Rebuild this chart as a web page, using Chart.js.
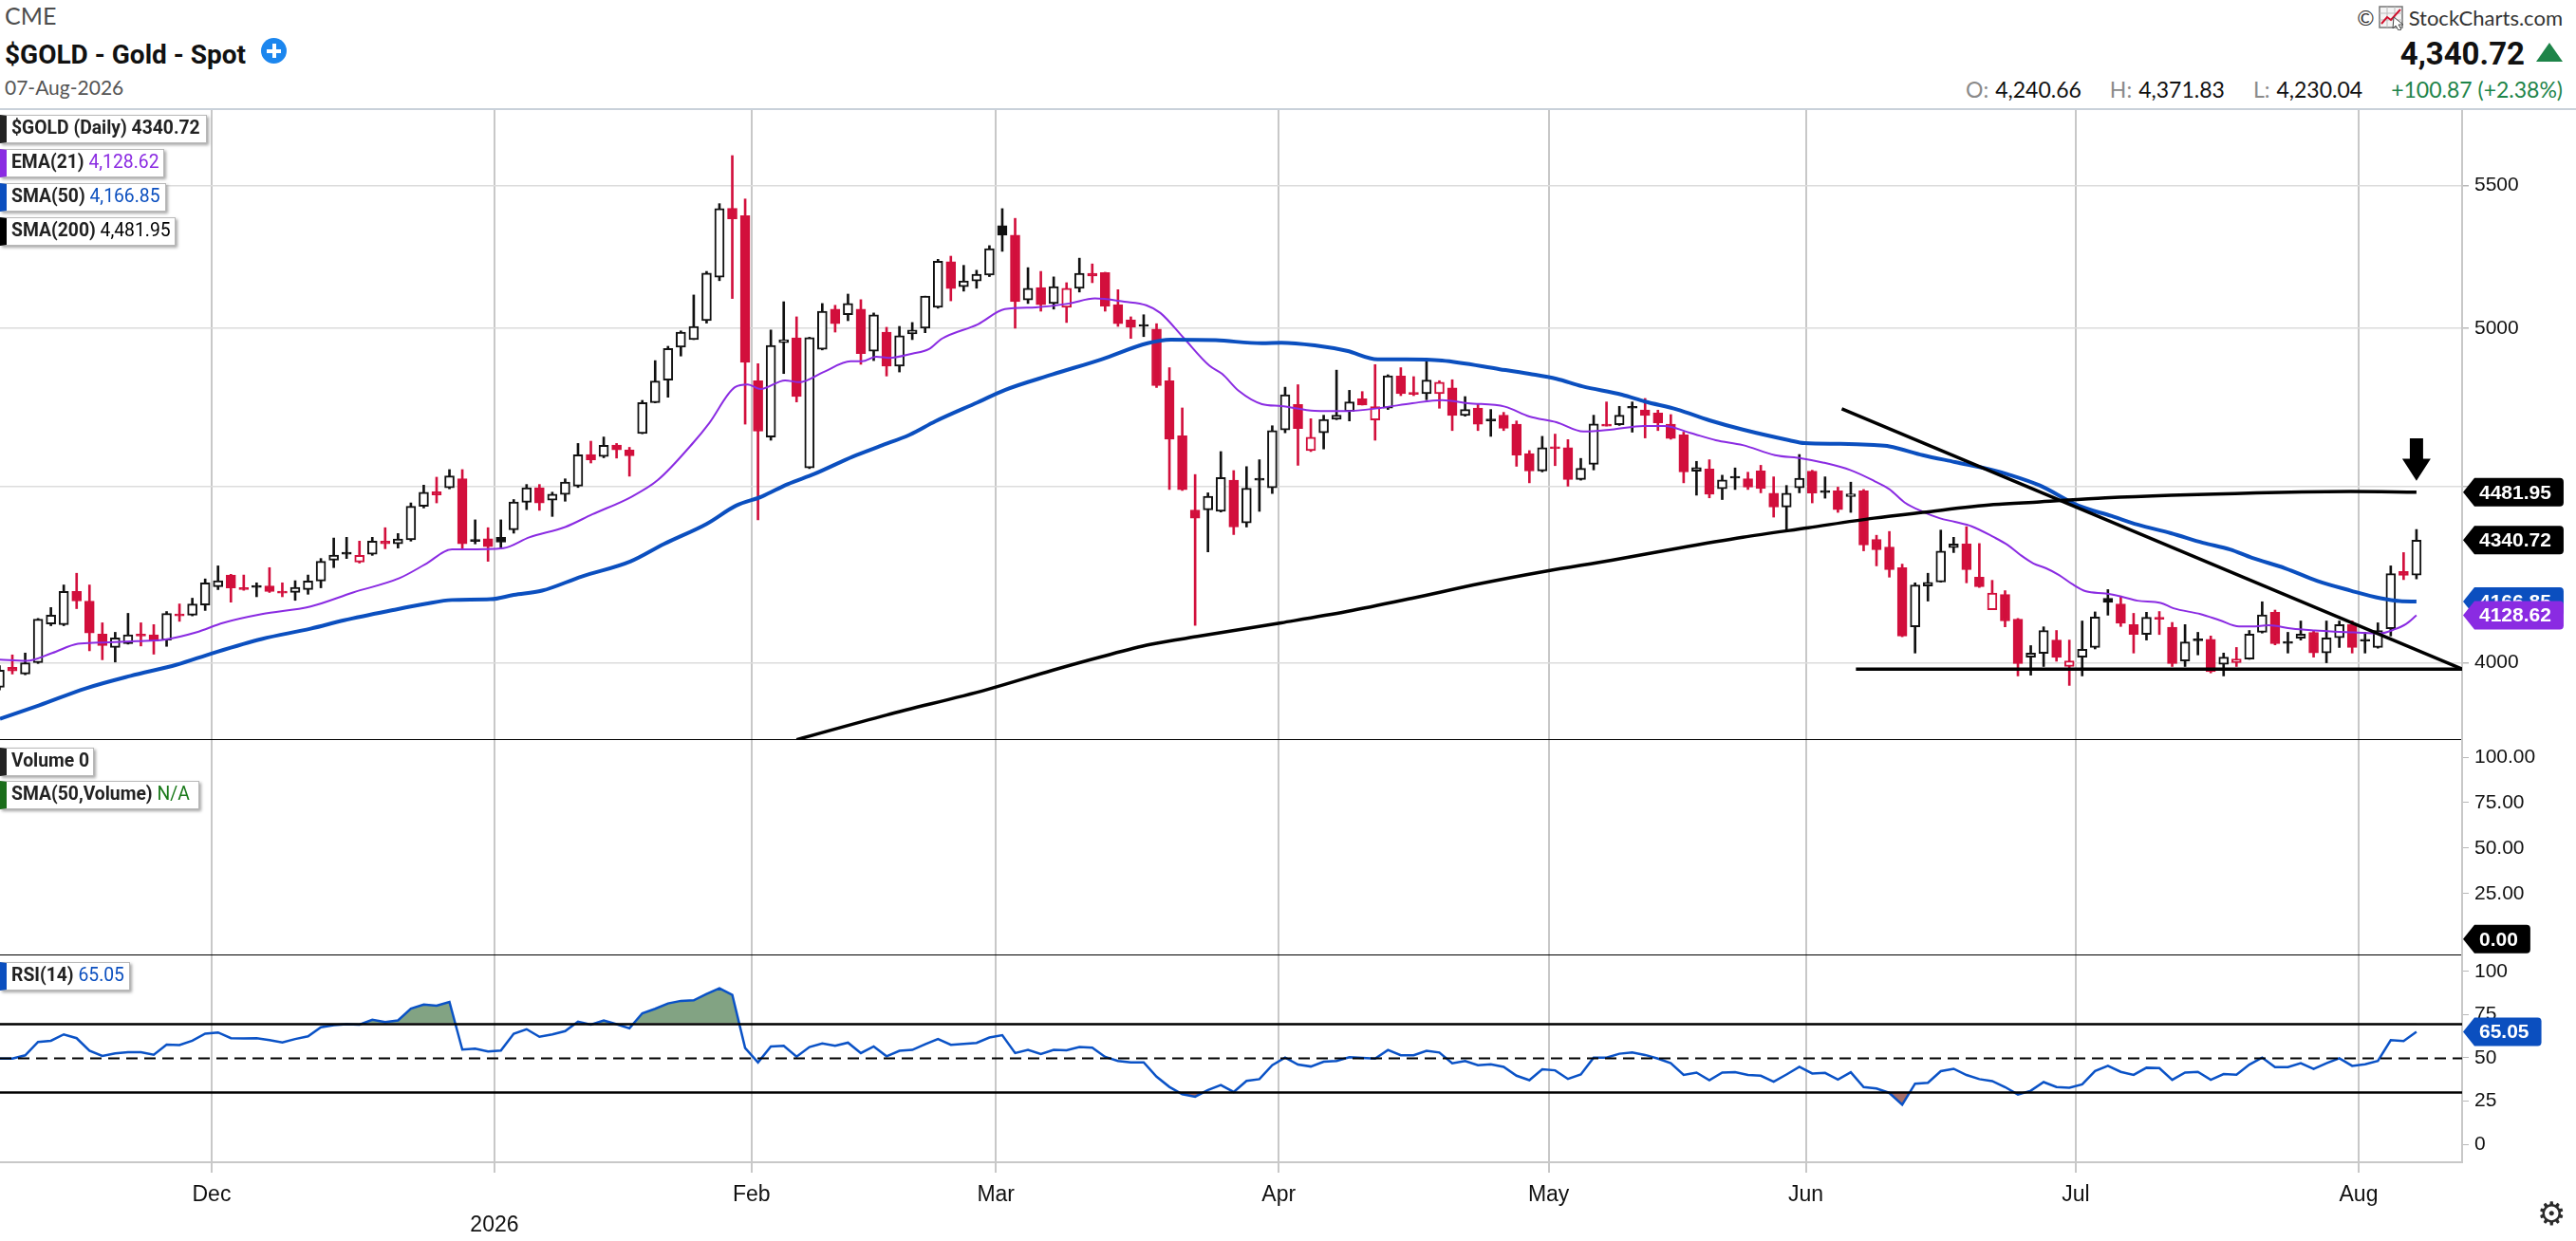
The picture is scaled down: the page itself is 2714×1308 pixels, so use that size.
<!DOCTYPE html>
<html>
<head>
<meta charset="utf-8">
<title>$GOLD - Gold - Spot</title>
<script src="https://cdn.jsdelivr.net/npm/chart.js@4.4.1/dist/chart.umd.min.js"></script>
<style>
html, body { margin: 0; padding: 0; background: #fff; }
body { position: relative; width: 2714px; height: 1308px; overflow: hidden; font-family: Lato, "Open Sans", sans-serif; color: #111; }
.a { position: absolute; white-space: nowrap; line-height: 1; }
#cme { left: 5px; top: 4px; font-size: 25px; color: #4d4d4d; }
#title { left: 5px; top: 41px; font: bold 28px Roboto, sans-serif; }
#plus { left: 275px; top: 40px; width: 27px; height: 27px; border-radius: 50%; background: #1c86ee; }
#plus:before, #plus:after { content: ''; position: absolute; background: #fff; }
#plus:before { left: 6px; top: 11.5px; width: 15px; height: 4px; }
#plus:after { left: 11.5px; top: 6px; width: 4px; height: 15px; }
#date { left: 5px; top: 81px; font-size: 21px; color: #555; }
#brand { right: 14px; top: 6px; font-size: 22px; color: #333; display: flex; align-items: center; gap: 4px; }
#last { right: 54px; top: 37px; font: bold 33px Roboto, sans-serif; }
#tri { right: 14px; top: 45px; width: 0; height: 0; border-left: 14px solid transparent; border-right: 14px solid transparent; border-bottom: 20px solid #1e8449; }
#ohlc { right: 14px; top: 83px; font-size: 23px; display: flex; gap: 30px; }
#ohlc .k { color: #8a8a8a; margin-right: 7px; }
#ohlc .chg { color: #1e8449; }
#topline { left: 0; top: 114px; width: 2714px; height: 2px; background: #c9d1da; }
canvas { position: absolute; left: 0; }
.leg { position: absolute; left: 0; z-index: 2; height: 30px; line-height: 28px; white-space: nowrap; background: #fff; border: 1px solid #b8b8b8; border-left: 7px solid #222; box-shadow: 2px 2px 3px rgba(0,0,0,.35); box-sizing: border-box; overflow: hidden; font: bold 21px Roboto, sans-serif; color: #222; padding-left: 5px; }
.leg .t { display: inline-block; white-space: nowrap; transform: scaleX(0.92); transform-origin: 0 50%; }
.leg .v { font-weight: normal; }
#gear { left: 2673px; top: 1259px; font: 34px "DejaVu Sans", sans-serif; color: #2b2b2b; }
</style>
</head>
<body>
<div class="a" id="cme">CME</div>
<div class="a" id="title">$GOLD - Gold - Spot</div>
<div class="a" id="plus"></div>
<div class="a" id="date">07-Aug-2026</div>
<div class="a" id="brand"><span>&copy;</span>
  <svg width="28" height="26" viewBox="0 0 28 26"><rect x="1" y="1" width="24" height="22" fill="#f4f4f4" stroke="#777" stroke-width="1.5"/>
  <path d="M1 8H25M1 15H25M9 1V23M17 1V23" stroke="#bbb" stroke-width="1"/>
  <path d="M3 19L9 12L13 15L23 4" stroke="#d0102c" stroke-width="2" fill="none"/>
  <path d="M16 12L26 20L21 20L24 25L21 26L18 21L15 24Z" fill="#fff" stroke="#444" stroke-width="1"/></svg>
  <span>StockCharts.com</span></div>
<div class="a" id="last"></div>
<div class="a" id="tri"></div>
<div class="a" id="ohlc"></div>
<div class="a" id="topline"></div>

<div class="leg" id="legPrice" style="top:121px;width:218px;border-left-color:#222"></div>
<div class="leg" id="legEma" style="top:157px;width:173px;border-left-color:#8a2be2"></div>
<div class="leg" id="legSma50" style="top:193px;width:175px;border-left-color:#0b4fbf"></div>
<div class="leg" id="legSma200" style="top:229px;width:185px;border-left-color:#000"></div>
<div class="leg" id="legVol" style="top:788px;width:99px;border-left-color:#222"><span class="t">Volume 0</span></div>
<div class="leg" id="legVolSma" style="top:823px;width:210px;border-left-color:#1b6e1b"><span class="t">SMA(50,Volume) <span class="v" style="color:#1b7a1b">N/A</span></span></div>
<div class="leg" id="legRsi" style="top:1014px;width:137px;border-left-color:#0b4fbf"></div>

<canvas id="cPrice" width="2714" height="664" style="top:116px"></canvas>
<canvas id="cVol" width="2714" height="227" style="top:780px"></canvas>
<canvas id="cRsi" width="2714" height="301" style="top:1007px"></canvas>
<div class="a" id="gear">&#9881;</div>

<script>
// daily candles, 189 sessions (early Nov 2025 .. 07 Aug 2026), index = session number
var opens = [3935,3988,3970,4000,4105,4103,4195,4168,4077,4041,
  4051,4076,4075,4061,4131,4129,4157,4208,4241,4205,
  4210,4210,4195,4192,4200,4224,4283,4306,4278,4300,
  4338,4330,4342,4440,4483,4495,4522,4342,4345,4349,
  4371,4452,4495,4458,4475,4500,4596,4590,4625,4610,
  4661,4758,4830,4937,4962,5025,5173,5416,5390,4828,
  4650,4952,4968,4555,4930,5064,5045,5064,4924,4987,
  4875,4981,5000,5070,5227,5140,5160,5180,5354,5320,
  5095,5137,5083,5070,5135,5186,5189,5079,5028,5008,
  4997,4828,4654,4429,4429,4425,4518,4391,4522,4495,
  4672,4752,4608,4663,4705,4730,4770,4703,4740,4843,
  4789,4786,4786,4805,4717,4741,4705,4718,4690,4599,
  4546,4617,4617,4520,4566,4690,4688,4745,4735,4725,
  4690,4657,4545,4552,4492,4528,4522,4546,4479,4438,
  4495,4545,4484,4486,4469,4486,4343,4321,4262,4097,
  4210,4221,4319,4330,4235,4144,4186,4118,4015,4025,
  4061,3990,4015,4041,4176,4160,4103,4076,4123,4096,
  4005,4063,4063,3996,4000,4010,4082,4137,4053,4066,
  4082,4026,4067,4103,4063,4041,4092,4251,4240.66];
var highs = [3992,4021,4026,4120,4150,4213,4246,4213,4108,4082,
  4134,4108,4103,4139,4160,4176,4230,4267,4243,4241,
  4219,4262,4219,4225,4241,4288,4347,4349,4338,4349,
  4377,4360,4450,4503,4527,4550,4550,4400,4377,4400,
  4460,4505,4505,4482,4522,4630,4637,4650,4630,4618,
  4765,4893,4940,4991,5112,5193,5433,5610,5450,4883,
  4994,5089,5038,4970,5083,5077,5115,5096,5051,5003,
  5006,5019,5108,5235,5246,5214,5197,5283,5415,5380,
  5206,5193,5174,5154,5239,5219,5190,5130,5038,5045,
  5015,4870,4741,4535,4480,4605,4547,4559,4580,4685,
  4807,4815,4707,4718,4862,4797,4793,4880,4847,4870,
  4841,4891,4828,4831,4777,4754,4736,4727,4700,4608,
  4652,4659,4642,4584,4718,4760,4746,4760,4771,4734,
  4720,4665,4575,4580,4533,4555,4542,4563,4528,4502,
  4596,4548,4528,4497,4512,4490,4355,4366,4272,4219,
  4246,4370,4349,4380,4331,4226,4197,4120,4046,4097,
  4087,4061,4113,4138,4200,4182,4134,4137,4139,4109,
  4103,4082,4072,4026,4041,4087,4166,4143,4082,4113,
  4087,4113,4113,4113,4082,4108,4267,4305,4371.83];
var lows = [3928,3970,3968,3998,4100,4100,4147,4032,4008,4002,
  4050,4045,4023,4044,4112,4127,4142,4200,4165,4198,
  4180,4192,4180,4170,4187,4205,4262,4288,4275,4297,
  4316,4318,4338,4435,4450,4492,4317,4330,4280,4316,
  4361,4430,4428,4410,4455,4496,4570,4586,4585,4530,
  4660,4757,4775,4908,4962,5017,5161,5100,4690,4400,
  4640,4851,4760,4553,4928,4987,5025,4881,4893,4843,
  4856,4962,4985,5067,5092,5125,5135,5175,5263,5000,
  5083,5057,5064,5019,5122,5154,5057,5006,4966,4972,
  4806,4490,4487,4101,4307,4423,4357,4379,4425,4478,
  4663,4563,4605,4613,4704,4700,4750,4640,4736,4780,
  4780,4767,4740,4670,4715,4670,4652,4670,4560,4510,
  4543,4562,4500,4518,4549,4684,4686,4665,4647,4670,
  4643,4510,4473,4465,4460,4490,4490,4480,4408,4370,
  4480,4450,4464,4422,4422,4310,4267,4235,4070,4026,
  4168,4221,4305,4219,4206,4144,4097,3965,3967,3990,
  4004,3940,3965,4037,4129,4098,4026,4061,4076,3990,
  3990,4021,3973,3965,3990,4009,4080,4048,4026,4061,
  4015,4000,4041,4026,4026,4039,4072,4228,4230.04];
var closes = [3980,3978,4000,4118,4129,4195,4168,4080,4046,4067,
  4075,4072,4058,4134,4127,4160,4219,4225,4205,4200,
  4206,4195,4190,4206,4224,4280,4298,4300,4297,4338,
  4330,4344,4440,4482,4474,4531,4330,4337,4322,4335,
  4453,4495,4450,4476,4512,4595,4580,4624,4610,4592,
  4758,4827,4933,4987,5006,5187,5415,5378,4887,4668,
  4943,4962,4777,4969,5057,5015,5083,4916,5045,4875,
  4975,4994,5108,5228,5134,5160,5183,5272,5320,5089,
  5135,5079,5141,5135,5186,5177,5074,5015,5003,5006,
  4812,4643,4489,4405,4470,4526,4379,4494,4518,4670,
  4783,4676,4649,4705,4718,4760,4750,4745,4844,4786,
  4784,4830,4823,4717,4736,4690,4700,4677,4594,4546,
  4617,4614,4520,4554,4691,4684,4718,4740,4717,4694,
  4645,4543,4556,4476,4519,4524,4497,4493,4438,4479,
  4524,4479,4481,4430,4477,4327,4313,4256,4072,4213,
  4220,4309,4330,4256,4208,4190,4113,3998,4026,4087,
  4014,4005,4036,4124,4164,4107,4076,4123,4118,3998,
  4056,4059,3976,4015,4010,4077,4130,4051,4052,4077,
  4026,4067,4103,4041,4058,4087,4245,4239.85,4340.72];

// overlays as [session, value]
var ema21 = [[0.04,4008],[2.1,4005],[4.1,4026],[6.1,4051],[7.7,4054],[10.7,4058],[12.8,4062],[15.3,4082],
  [17.4,4108],[20.4,4132],[24.2,4153],[27.5,4192],[31.1,4232],[33.1,4271],[35.2,4314],[36.2,4314],
  [39.2,4318],[41.2,4349],[44.0,4379],[46.1,4416],[49.1,4467],[51.2,4518],[54.0,4634],[55.2,4693],
  [57.2,4807],[58.2,4816],[59.2,4801],[61.1,4829],[62.2,4823],[64.1,4856],[66.2,4891],[67.1,4891],
  [68.2,4906],[69.2,4902],[71.0,4916],[72.3,4931],[73.3,4965],[76.1,5013],[78.2,5064],[80.6,5070],
  [83.2,5083],[85.2,5100],[87.5,5089],[89.2,5077],[90.3,5051],[92.1,4968],[94.1,4877],[95.1,4850],
  [96.4,4795],[98.2,4753],[99.7,4747],[102.3,4732],[104.8,4731],[107.4,4741],[109.9,4756],[112.2,4766],
  [114.2,4756],[117.1,4745],[119.0,4714],[121.1,4696],[123.2,4667],[125.4,4673],[127.9,4684],[129.5,4684],
  [131.5,4663],[133.5,4640],[135.6,4625],[138.1,4594],[140.2,4584],[141.9,4571],[144.0,4548],[145.8,4516],
  [147.0,4491],[148.2,4451],[149.6,4424],[150.9,4405],[152.1,4394],[153.4,4381],[155.1,4350],[156.2,4327],
  [157.2,4298],[158.2,4274],[159.2,4260],[160.2,4241],[161.2,4216],[162.3,4195],[163.8,4189],[165.1,4180],
  [166.3,4169],[168.1,4163],[169.1,4148],[171.2,4132],[172.7,4115],[174.2,4098],[175.2,4098],[176.5,4101],
  [178.3,4092],[180.1,4087],[181.6,4084],[183.1,4082],[185.2,4079],[186.2,4089],[187.2,4105],[188,4128.62]];
var sma50 = [[0.04,3853],[3.1,3888],[6.7,3932],[10.2,3965],[13.8,3995],[16.6,4026],[20.4,4064],[24.2,4092],
  [26.8,4115],[30.6,4143],[33.1,4160],[35.2,4171],[38.2,4173],[40.0,4185],[42.2,4197],[45.3,4237],
  [49.1,4280],[51.7,4330],[55.0,4388],[57.3,4442],[59.3,4469],[61.3,4506],[63.4,4537],[66.4,4590],
  [68.5,4622],[70.8,4657],[72.8,4699],[76.1,4759],[78.2,4798],[81.9,4848],[85.7,4897],[89.3,4950],
  [91.1,4962],[94.6,4960],[98.2,4950],[99.7,4952],[102.3,4943],[104.8,4925],[107.2,4897],[109.4,4897],
  [112.2,4893],[116.7,4865],[119.0,4850],[121.1,4834],[123.1,4810],[126.2,4783],[128.0,4761],[130.5,4736],
  [133.0,4702],[135.6,4673],[139.2,4640],[140.4,4631],[143.2,4629],[145.8,4625],[147.0,4621],[149.6,4594],
  [152.1,4573],[155.1,4548],[156.2,4536],[158.7,4502],[161.7,4442],[164.3,4411],[166.3,4386],[168.9,4361],
  [171.4,4333],[173.5,4314],[175.2,4290],[177.8,4260],[180.3,4224],[182.9,4197],[185.2,4176],[186.7,4168],
  [188,4166.85]];
var sma200 = [[62,3800],[69.0,3863],[76.8,3929],[81.9,3980],[85.7,4016],[89.5,4049],[93.4,4072],[99.7,4108],
  [104.8,4139],[109.9,4176],[115.2,4217],[120.3,4252],[125.4,4283],[130.5,4317],[135.6,4349],[140.7,4377],
  [145.8,4405],[149.6,4422],[155.1,4445],[158.7,4453],[163.8,4465],[168.9,4473],[173.9,4478],[179.1,4483],
  [182.9,4484],[188,4481.95]];

// hand-drawn lines on the chart
var trendDown = [[143.3,4738],[191.55,3983]];
var supportLine = [[144.4,3983],[191.55,3983]];
var arrowMark = { x: 188, top: 4646, tip: 4516 };

var rsi14 = [49.6,49.6,51.5,59.2,59.9,63.6,61.4,54.2,51.1,52.6,
  53.3,53.3,51.8,57.7,57.4,59.9,64.0,64.7,61.4,61.2,
  61.4,60.3,59.0,60.9,62.5,67.7,69.0,69.5,69.2,72.1,
  70.8,71.7,78.5,80.9,80.2,82.4,54.8,55.3,53.7,54.2,
  64.0,66.6,62.2,63.6,65.5,71.0,69.2,71.7,69.5,67.1,
  75.8,78.4,81.5,83.0,83.3,87.0,90.3,86.5,55.7,47.4,
  56.6,57.0,50.7,56.3,58.4,57.0,58.8,52.8,56.6,50.9,
  54.1,54.6,57.9,60.9,57.6,58.1,58.7,61.8,63.1,52.8,
  54.6,52.2,54.6,54.4,56.3,55.9,50.6,48.2,47.4,47.4,
  39.1,33.2,29.0,27.5,31.4,34.3,30.3,36.7,37.7,45.8,
  50.2,46.1,45.0,47.8,48.2,50.4,50.0,49.6,54.6,51.5,
  51.5,54.1,53.1,46.9,48.2,45.8,46.3,44.8,39.7,37.1,
  43.4,42.8,37.8,40.4,50.2,50.2,52.4,53.2,51.7,49.6,
  46.9,40.1,41.5,37.1,41.5,41.7,40.1,39.7,36.2,40.4,
  44.8,41.0,41.3,37.5,41.7,33.1,32.3,29.7,22.9,35.1,
  35.6,42.3,43.7,40.1,37.7,36.6,33.1,28.8,31.0,36.0,
  33.1,32.7,34.7,42.4,45.4,41.9,40.2,44.3,44.1,37.3,
  41.5,41.9,37.3,40.6,40.2,46.1,50.2,44.7,44.7,46.9,
  43.6,46.9,49.8,45.4,46.3,48.2,60.3,59.8,65.05];
var volumeLast = 0;

// axes
var monthAt = [16.5, 38.5, 58.5, 77.5, 99.5, 120.5, 140.5, 161.5, 183.5];
var monthLabels = ['Dec', ['', '2026'], 'Feb', 'Mar', 'Apr', 'May', 'Jun', 'Jul', 'Aug'];
var xMin = 0.04, xMax = 191.55;
var priceMin = 3799, priceMax = 5783;
var priceTicks = [4000, 4500, 5000, 5500];
var volTicks = [25, 50, 75, 100];
var rsiTicks = [0, 25, 50, 75, 100];
var rsiLevels = [70, 50, 30];

var RED = '#d20f3c', BLACK = '#111111', PURPLE = '#8a2be2', BLUE = '#0b4fbf', RSIBLUE = '#0a52c6';
var AXISFONT = { family: '"Liberation Sans", Arial, sans-serif', size: 21 };

var last = closes.length - 1;
var last2 = function (arr) { return arr[arr.length - 1][1]; };
var fmt = function (v) { return v.toLocaleString('en-US', { minimumFractionDigits: 2, maximumFractionDigits: 2 }); };

// header texts
var chg = closes[last] - closes[last - 1];
document.getElementById('last').textContent = fmt(closes[last]);
document.getElementById('ohlc').innerHTML =
  '<span><span class="k">O:</span>' + fmt(opens[last]) + '</span>' +
  '<span><span class="k">H:</span>' + fmt(highs[last]) + '</span>' +
  '<span><span class="k">L:</span>' + fmt(lows[last]) + '</span>' +
  '<span class="chg">+' + chg.toFixed(2) + ' (+' + (chg / closes[last - 1] * 100).toFixed(2) + '%)</span>';
document.getElementById('legPrice').innerHTML = '<span class="t">$GOLD (Daily) ' + closes[last].toFixed(2) + '</span>';
document.getElementById('legEma').innerHTML = '<span class="t">EMA(21) <span class="v" style="color:' + PURPLE + '">' + fmt(last2(ema21)) + '</span></span>';
document.getElementById('legSma50').innerHTML = '<span class="t">SMA(50) <span class="v" style="color:' + BLUE + '">' + fmt(last2(sma50)) + '</span></span>';
document.getElementById('legSma200').innerHTML = '<span class="t">SMA(200) <span class="v" style="color:#000">' + fmt(last2(sma200)) + '</span></span>';
document.getElementById('legRsi').innerHTML = '<span class="t">RSI(14) <span class="v" style="color:' + BLUE + '">' + rsi14[last].toFixed(2) + '</span></span>';

// candle colours: red when close is below the prior close, hollow when close is above the open
var edge = closes.map(function (c, i) { return (i > 0 && c < closes[i - 1]) ? RED : BLACK; });
var body = closes.map(function (c, i) { return c > opens[i] ? '#ffffff' : edge[i]; });

function noPad(s) { s.paddingTop = 0; s.paddingBottom = 0; s.paddingLeft = 0; s.paddingRight = 0; }

function xAxis(withLabels, borderColor, borderWidth) {
  return {
    type: 'linear', min: xMin, max: xMax, offset: false,
    afterBuildTicks: function (s) { s.ticks = monthAt.map(function (v) { return { value: v }; }); },
    afterFit: function (s) { s.height = withLabels ? 83 : 0; noPad(s); },
    grid: { color: '#c8c8c8', lineWidth: 2, offset: false, drawTicks: withLabels, tickLength: 11 },
    border: { display: true, color: borderColor, width: borderWidth },
    ticks: {
      display: withLabels, autoSkip: false, maxRotation: 0, minRotation: 0, padding: 8, color: '#111',
      font: { family: '"Liberation Sans", Arial, sans-serif', size: 23, lineHeight: 1.39 },
      callback: function (v, i) { return monthLabels[i]; }
    }
  };
}

function yAxis(extra) {
  var base = {
    position: 'right',
    afterFit: function (s) { s.width = 120; noPad(s); },
    border: { display: true, color: '#c8c8c8', width: 2 },
    grid: { drawOnChartArea: false, drawTicks: true, tickLength: 7, tickColor: '#b8b8b8' },
    ticks: { padding: 6, color: '#111', font: AXISFONT, autoSkip: false }
  };
  for (var k in extra) base[k] = extra[k];
  return base;
}

function flagPlugin(items) {
  return {
    id: 'flags',
    afterDraw: function (chart) {
      var ctx = chart.ctx, ys = chart.scales.y, x0 = chart.chartArea.right + 1, h = 30;
      ctx.save();
      ctx.font = 'bold 21px "Liberation Sans", Arial, sans-serif';
      ctx.textBaseline = 'middle';
      items.forEach(function (it) {
        var py = ys.getPixelForValue(it.value);
        var w = ctx.measureText(it.text).width + 30;
        ctx.fillStyle = it.color;
        ctx.beginPath();
        ctx.moveTo(x0, py);
        ctx.lineTo(x0 + 12, py - h / 2);
        ctx.lineTo(x0 + w - 4, py - h / 2);
        ctx.quadraticCurveTo(x0 + w, py - h / 2, x0 + w, py - h / 2 + 4);
        ctx.lineTo(x0 + w, py + h / 2 - 4);
        ctx.quadraticCurveTo(x0 + w, py + h / 2, x0 + w - 4, py + h / 2);
        ctx.lineTo(x0 + 12, py + h / 2);
        ctx.closePath();
        ctx.fill();
        ctx.fillStyle = '#fff';
        ctx.fillText(it.text, x0 + 17, py + 1);
      });
      ctx.restore();
    }
  };
}

var arrowPlugin = {
  id: 'arrow',
  afterDatasetsDraw: function (chart) {
    var ctx = chart.ctx, xs = chart.scales.x, ys = chart.scales.y;
    var cx = xs.getPixelForValue(arrowMark.x), top = ys.getPixelForValue(arrowMark.top), tip = ys.getPixelForValue(arrowMark.tip);
    var head = (tip - top) * 0.52;
    ctx.save();
    ctx.fillStyle = '#000';
    ctx.beginPath();
    ctx.moveTo(cx - 7, top);
    ctx.lineTo(cx + 7, top);
    ctx.lineTo(cx + 7, tip - head);
    ctx.lineTo(cx + 15, tip - head);
    ctx.lineTo(cx, tip);
    ctx.lineTo(cx - 15, tip - head);
    ctx.lineTo(cx - 7, tip - head);
    ctx.closePath();
    ctx.fill();
    ctx.restore();
  }
};

var levelPlugin = {
  id: 'levels',
  afterDatasetsDraw: function (chart) {
    var ctx = chart.ctx, ys = chart.scales.y, a = chart.chartArea;
    ctx.save();
    ctx.strokeStyle = '#000';
    rsiLevels.forEach(function (v) {
      var py = Math.round(ys.getPixelForValue(v)) + 0.5;
      ctx.lineWidth = v === 50 ? 2.2 : 2.6;
      ctx.setLineDash(v === 50 ? [12, 7] : []);
      ctx.beginPath();
      ctx.moveTo(a.left, py);
      ctx.lineTo(a.right, py);
      ctx.stroke();
    });
    ctx.restore();
  }
};

function pts(arr) { return arr.map(function (p) { return { x: p[0], y: p[1] }; }); }
function lineSet(arr, color, width, order) {
  return { type: 'line', data: pts(arr), borderColor: color, borderWidth: width, pointRadius: 0,
    cubicInterpolationMode: 'monotone', fill: false, order: order };
}

var common = {
  responsive: false, animation: false,
  layout: { padding: 0, autoPadding: false },
  plugins: { legend: { display: false }, tooltip: { enabled: false } },
  events: []
};
function opts(scales) {
  var o = {};
  for (var k in common) o[k] = common[k];
  o.scales = scales;
  return o;
}

// price panel
new Chart(document.getElementById('cPrice'), {
  type: 'bar',
  data: {
    datasets: [
      { type: 'bar', data: lows.map(function (l, i) { return { x: i, y: [l, highs[i]] }; }),
        backgroundColor: edge, borderWidth: 0, barThickness: 2, grouped: false, order: 3 },
      { type: 'bar', data: opens.map(function (o, i) { return { x: i, y: [o, closes[i]] }; }),
        backgroundColor: body, borderColor: edge, borderWidth: 2, borderSkipped: false,
        barThickness: 10, minBarLength: 2, grouped: false, order: 2 },
      lineSet(sma200, '#000000', 3.5, 1),
      lineSet(sma50, BLUE, 4, 1),
      lineSet(ema21, PURPLE, 2, 1),
      { type: 'line', data: pts(trendDown), borderColor: '#000', borderWidth: 3.5, pointRadius: 0, order: 0 },
      { type: 'line', data: pts(supportLine), borderColor: '#000', borderWidth: 3.5, pointRadius: 0, order: 0 }
    ]
  },
  options: opts({
    x: xAxis(false, '#000', 3),
    y: yAxis({
      type: 'logarithmic', min: priceMin, max: priceMax,
      afterBuildTicks: function (s) { s.ticks = priceTicks.map(function (v) { return { value: v }; }); },
      grid: { color: '#dcdcdc', lineWidth: 1.5, offset: false, drawTicks: true, tickLength: 7, tickColor: '#b8b8b8' },
      ticks: { padding: 6, color: '#111', font: AXISFONT, autoSkip: false, callback: function (v) { return String(v); } }
    })
  }),
  plugins: [arrowPlugin, flagPlugin([
    { value: last2(sma200), text: last2(sma200).toFixed(2), color: '#000' },
    { value: closes[last], text: closes[last].toFixed(2), color: '#000' },
    { value: last2(sma50), text: last2(sma50).toFixed(2), color: BLUE },
    { value: last2(ema21), text: last2(ema21).toFixed(2), color: PURPLE }
  ])]
});

// volume panel (no volume reported)
new Chart(document.getElementById('cVol'), {
  type: 'bar',
  data: { datasets: [] },
  options: opts({
    x: xAxis(false, '#000', 3),
    y: yAxis({
      type: 'linear', min: -9, max: 109.4,
      afterBuildTicks: function (s) { s.ticks = volTicks.map(function (v) { return { value: v }; }); },
      grid: { drawOnChartArea: false, offset: false, drawTicks: true, tickLength: 7, tickColor: '#b8b8b8' },
      ticks: { padding: 6, color: '#111', font: AXISFONT, autoSkip: false, callback: function (v) { return v.toFixed(2); } }
    })
  }),
  plugins: [flagPlugin([{ value: volumeLast, text: volumeLast.toFixed(2), color: '#000' }])]
});

// RSI panel
var rsiPts = rsi14.map(function (v, i) { return { x: i, y: v }; });
new Chart(document.getElementById('cRsi'), {
  type: 'line',
  data: {
    datasets: [
      { data: rsiPts, borderColor: RSIBLUE, borderWidth: 2.5, pointRadius: 0, tension: 0, order: 0,
        fill: { target: { value: 70 }, above: '#82a383', below: 'rgba(0,0,0,0)' } },
      { data: rsiPts, borderColor: 'rgba(0,0,0,0)', borderWidth: 0, pointRadius: 0, tension: 0, order: 1,
        fill: { target: { value: 30 }, above: 'rgba(0,0,0,0)', below: '#a8716b' } }
    ]
  },
  options: opts({
    x: xAxis(true, '#c8c8c8', 2),
    y: yAxis({
      type: 'linear', min: -10.4, max: 109.3,
      afterBuildTicks: function (s) { s.ticks = rsiTicks.map(function (v) { return { value: v }; }); },
      ticks: { padding: 6, color: '#111', font: AXISFONT, autoSkip: false, callback: function (v) { return String(v); } }
    })
  }),
  plugins: [levelPlugin, flagPlugin([{ value: rsi14[last], text: rsi14[last].toFixed(2), color: BLUE }])]
});
</script>
</body>
</html>
